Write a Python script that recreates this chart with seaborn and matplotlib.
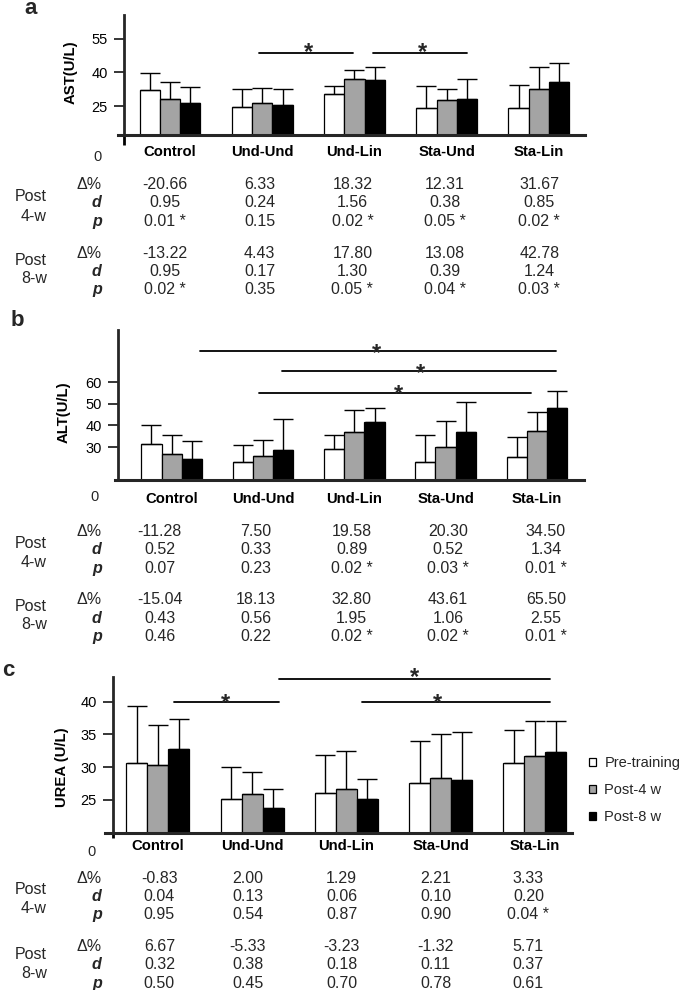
import numpy as np
import pandas as pd
import matplotlib
matplotlib.use("Agg")
import matplotlib.pyplot as plt
import seaborn as sns

# ---------------- data ----------------
groups = ["Control", "Und-Und", "Und-Lin", "Sta-Und", "Sta-Lin"]
times = ["Pre-training", "Post-4 w", "Post-8 w"]

# AST (U/L): means and SD (upper error bars)
ast_pre = [32.2, 24.6, 30.4, 24.3, 24.0]
ast_4w = [28.2, 26.4, 37.0, 27.7, 32.6]
ast_8w = [26.5, 25.6, 36.5, 28.1, 35.6]
ast_sd_pre = [7.6, 8.0, 3.7, 9.8, 10.3]
ast_sd_4w = [7.6, 6.8, 4.1, 5.1, 10.0]
ast_sd_8w = [6.9, 7.0, 6.0, 8.9, 8.8]

# ALT (U/L)
alt_pre = [31.2, 23.1, 29.2, 23.1, 25.4]
alt_4w = [26.8, 25.8, 36.8, 29.9, 37.4]
alt_8w = [24.6, 28.8, 41.4, 37.1, 48.1]
alt_sd_pre = [8.8, 7.7, 6.2, 12.6, 9.1]
alt_sd_4w = [8.7, 7.3, 10.3, 12.2, 8.9]
alt_sd_8w = [8.2, 14.0, 6.7, 13.8, 7.7]

# UREA (U/L)
urea_pre = [30.57, 25.10, 26.07, 27.56, 30.57]
urea_4w = [30.27, 25.87, 26.59, 28.28, 31.73]
urea_8w = [32.80, 23.68, 25.15, 28.06, 32.26]
urea_sd_pre = [8.77, 4.95, 5.73, 6.42, 5.03]
urea_sd_4w = [6.12, 3.37, 5.91, 6.82, 5.36]
urea_sd_8w = [4.55, 2.91, 2.97, 7.34, 4.83]

# tables (Δ%, d, p) for post 4-w and post 8-w
ast_delta_4w = ["-20.66", "6.33", "18.32", "12.31", "31.67"]
ast_d_4w = ["0.95", "0.24", "1.56", "0.38", "0.85"]
ast_p_4w = ["0.01 *", "0.15", "0.02 *", "0.05 *", "0.02 *"]
ast_delta_8w = ["-13.22", "4.43", "17.80", "13.08", "42.78"]
ast_d_8w = ["0.95", "0.17", "1.30", "0.39", "1.24"]
ast_p_8w = ["0.02 *", "0.35", "0.05 *", "0.04 *", "0.03 *"]

alt_delta_4w = ["-11.28", "7.50", "19.58", "20.30", "34.50"]
alt_d_4w = ["0.52", "0.33", "0.89", "0.52", "1.34"]
alt_p_4w = ["0.07", "0.23", "0.02 *", "0.03 *", "0.01 *"]
alt_delta_8w = ["-15.04", "18.13", "32.80", "43.61", "65.50"]
alt_d_8w = ["0.43", "0.56", "1.95", "1.06", "2.55"]
alt_p_8w = ["0.46", "0.22", "0.02 *", "0.02 *", "0.01 *"]

urea_delta_4w = ["-0.83", "2.00", "1.29", "2.21", "3.33"]
urea_d_4w = ["0.04", "0.13", "0.06", "0.10", "0.20"]
urea_p_4w = ["0.95", "0.54", "0.87", "0.90", "0.04 *"]
urea_delta_8w = ["6.67", "-5.33", "-3.23", "-1.32", "5.71"]
urea_d_8w = ["0.32", "0.38", "0.18", "0.11", "0.37"]
urea_p_8w = ["0.50", "0.45", "0.70", "0.78", "0.61"]

# significance brackets: (x start, x end, y line, x star, y star) in data units
ast_sig = [(0.965, 1.985, 48.56, 1.497, 51.9), (2.196, 3.22, 48.56, 2.733, 51.9)]
alt_sig = [(0.306, 4.204, 74.16, 2.238, 76.3),
           (1.205, 4.204, 65.07, 2.72, 67.4),
           (0.951, 3.931, 55.06, 2.479, 57.7)]
urea_sig = [(1.28, 4.16, 43.43, 2.726, 44.85),
            (0.169, 1.28, 40.0, 0.7225, 40.87),
            (2.17, 4.16, 40.0, 2.972, 40.87)]

# ---------------- style ----------------
sns.set_style("ticks")
plt.rcParams["font.family"] = ["Liberation Sans", "DejaVu Sans"]

W, H = 685, 990
fig = plt.figure(figsize=(W / 100, H / 100), dpi=100)
colors = ["#ffffff", "#a4a4a4", "#000000"]


def fx(x):
    return x / W


def fy(y):
    return 1 - y / H


def ftext(x, y, s, **kw):
    fig.text(fx(x), fy(y), s, **kw)


def panel(box, means, sds, ylabel, yticks, xlim, ylim, yaxis_x, ext_low,
          width, xpad, ylab_xy, letter, letter_xy, zero_xy, sig, legend):
    left, top, right, bottom = box
    ax = fig.add_axes([fx(left), fy(bottom), (right - left) / W, (bottom - top) / H])
    rows = []
    for t, m in zip(times, means):
        for g, v in zip(groups, m):
            rows.append({"group": g, "time": t, "value": v})
    df = pd.DataFrame(rows)
    sns.barplot(data=df, x="group", y="value", hue="time", order=groups,
                hue_order=times, palette=colors, saturation=1,
                edgecolor="black", linewidth=0.9, errorbar=None,
                width=width, gap=0, legend=legend, ax=ax)
    # upper error bars, placed on the bars drawn by seaborn
    xs, hs, es = [], [], []
    for p in ax.patches:
        if p.get_width() <= 0:
            continue
        xc = p.get_x() + p.get_width() / 2
        gi = int(round(xc))
        ti = int(round((xc - gi) / p.get_width())) + 1
        xs.append(xc)
        hs.append(p.get_height())
        es.append(sds[ti][gi])
    ax.errorbar(xs, hs, yerr=[np.zeros(len(es)), es], fmt="none",
                ecolor="black", elinewidth=1.0, capsize=7.0, capthick=1.0)

    ax.set_xlim(*xlim)
    ax.set_ylim(*ylim)
    sns.despine(ax=ax)
    ax.spines["left"].set_position(("data", yaxis_x))
    ax.spines["left"].set_linewidth(2.0)
    ax.spines["bottom"].set_linewidth(2.2)
    if ext_low is not None:
        ax.plot([yaxis_x, yaxis_x], [ext_low, ylim[0]], color="black", lw=2.0,
                clip_on=False, solid_capstyle="butt", scalex=False, scaley=False)
    ax.set_yticks(yticks)
    ax.set_yticklabels([str(t) for t in yticks])
    ax.tick_params(axis="y", length=7.5, width=1.1, pad=4.3, labelsize=10.5,
                   direction="out", color="black", labelcolor="black")
    ax.tick_params(axis="x", length=0, pad=xpad, labelsize=10.7, labelcolor="black")
    for lab in ax.get_xticklabels():
        lab.set_fontweight("bold")
    ax.set_xlabel("")
    lab = ax.set_ylabel(ylabel, fontweight="bold", fontsize=10.7, color="black")
    ax.yaxis.set_label_coords(fx(ylab_xy[0]), fy(ylab_xy[1]), transform=fig.transFigure)
    lab.set_va("center")

    for (x0, x1, yl, xs_, ys_) in sig:
        ax.plot([x0, x1], [yl, yl], color="black", lw=1.3, clip_on=False,
                scalex=False, scaley=False)
        fs = 17
        ax.annotate("*", xy=(xs_, ys_), xytext=(0, -0.575 * fs),
                    textcoords="offset points", ha="center", va="baseline",
                    fontsize=fs, fontweight="bold", annotation_clip=False)

    ftext(letter_xy[0], letter_xy[1], letter, fontsize=16, fontweight="bold",
          ha="center", va="center")
    ftext(zero_xy[0], zero_xy[1], "0", fontsize=10.5, ha="center", va="center")
    return ax


def table(cols, rows4, rows8, post4, post8, t4, t8):
    dy = 1.5
    fs = 11.5
    for rows, post, tab, lbl in ((rows4, post4, t4, "4-w"), (rows8, post8, t8, "8-w")):
        ftext(46.7, post[0] + dy, "Post", fontsize=fs, ha="right", va="center")
        ftext(46.7, post[1] + dy, lbl, fontsize=fs, ha="right", va="center")
        ftext(101.7, rows[0] + dy, "Δ%", fontsize=fs, ha="right", va="center")
        ftext(101.7, rows[1] + dy, "d", fontsize=fs, ha="right", va="center",
              fontweight="bold", fontstyle="italic")
        ftext(101.7, rows[2] + dy, "p", fontsize=fs, ha="right", va="center",
              fontweight="bold", fontstyle="italic")
        for r, vals in zip(rows, tab):
            for c, v in zip(cols, vals):
                ftext(c, r + dy, v, fontsize=fs, ha="center", va="center")


# ---------------- panel a ----------------
panel((118, 15, 585, 135),
      [ast_pre, ast_4w, ast_8w], [ast_sd_pre, ast_sd_4w, ast_sd_8w],
      "AST(U/L)", [25, 40, 55], (-0.564, 4.50), (12.1, 65.6), -0.496, 7.7,
      0.66, 7.0, (70.8, 71.7), "a", (31, 9), (98, 157), ast_sig, False)
table([165, 259.8, 352.4, 444.5, 539.3], [183.3, 201.3, 220], [251.7, 270, 288.3],
      (195, 215), (259, 276.7),
      [ast_delta_4w, ast_d_4w, ast_p_4w], [ast_delta_8w, ast_d_8w, ast_p_8w])

# ---------------- panel b ----------------
panel((115, 330, 584, 480),
      [alt_pre, alt_4w, alt_8w], [alt_sd_pre, alt_sd_4w, alt_sd_8w],
      "ALT(U/L)", [30, 40, 50, 60], (-0.621, 4.516), (14.77, 84.0), -0.586, None,
      0.665, 8.8, (63.3, 412.5), "b", (17.5, 320.5), (94.5, 497.2), alt_sig, False)
table([159.8, 255.5, 351.5, 448, 546], [530, 548.3, 566.7], [598.3, 616.7, 635],
      (541.7, 561), (605, 622.7),
      [alt_delta_4w, alt_d_4w, alt_p_4w], [alt_delta_8w, alt_d_8w, alt_p_8w])

# ---------------- panel c ----------------
axc = panel((105, 676.7, 572, 832.7),
            [urea_pre, urea_4w, urea_8w], [urea_sd_pre, urea_sd_4w, urea_sd_8w],
            "UREA (U/L)", [25, 30, 35, 40], (-0.561, 4.394), (19.95, 43.83), -0.473, 19.14,
            0.67, 4.3, (61.7, 766.7), "c", (8.3, 671), (91, 852.5), urea_sig, True)
sns.move_legend(axc, loc="upper left", bbox_to_anchor=(fx(589), fy(756)),
                bbox_transform=fig.transFigure, frameon=False, title=None,
                fontsize=10.5, handlelength=0.5, handleheight=0.5,
                handletextpad=0.55, labelspacing=0.9, borderpad=0, borderaxespad=0)
table([159.4, 247.8, 341.7, 435.6, 528.4], [876.7, 895, 913.3], [945, 963.3, 982.3],
      (888.3, 906.7), (953.3, 971.7),
      [urea_delta_4w, urea_d_4w, urea_p_4w], [urea_delta_8w, urea_d_8w, urea_p_8w])

fig.savefig("out.png", dpi=100)
